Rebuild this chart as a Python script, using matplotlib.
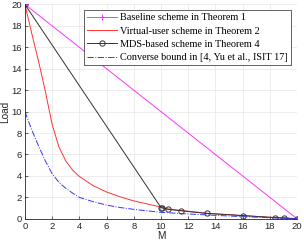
import matplotlib
matplotlib.use('Agg')
import matplotlib.pyplot as plt  # 그래프를 그리기 위한 라이브러리

# 데이터
baseline_M = [0, 20]
baseline_load = [20, 0]

virtual_M = [0, 0.5, 1, 1.5, 2, 2.5, 3, 3.5, 4, 5, 6, 7, 8, 9, 10,
             10.5, 11.48, 13.33, 16, 18.38, 19.04, 20]
virtual_load = [20, 17.3, 14.7, 11.9, 8.8, 6.7, 5.4, 4.55, 3.95, 3.1, 2.5, 2.05, 1.67, 1.38, 1.1,
                0.92, 0.77, 0.52, 0.3, 0.11, 0.07, 0]

mds_M = [0, 10, 10.1, 10.5, 11.48, 13.37, 16, 18.38, 19.04, 20]
mds_load = [20, 1.05, 1.0, 0.88, 0.75, 0.5, 0.3, 0.11, 0.08, 0]

converse_M = [0, 0.5, 1, 1.5, 2, 2.5, 3, 3.5, 4, 5, 6, 7, 8, 9, 10, 12, 14, 16, 18, 20]
converse_load = [10, 8.3, 6.8, 5.4, 4.2, 3.4, 2.85, 2.4, 2.0, 1.6, 1.28, 1.05, 0.88, 0.74, 0.6,
                 0.45, 0.32, 0.2, 0.1, 0]

labels = ['Baseline scheme in Theorem 1',
          'Virtual-user scheme in Theorem 2',
          'MDS-based scheme in Theorem 4',
          'Converse bound in [4, Yu et al., ISIT 17]']
ticks = list(range(0, 21, 2))

plt.rcParams['font.family'] = ['Liberation Sans', 'DejaVu Sans']

fig = plt.figure(figsize=(3.04, 2.45), dpi=100)
ax = fig.add_axes([0.082, 0.107, 0.895, 0.875])

ax.plot(baseline_M, baseline_load, color='#ff33ff', lw=0.7, marker='+', ms=5, mew=0.7, label=labels[0])
ax.plot(virtual_M, virtual_load, color='#ff3333', lw=0.7, label=labels[1])
ax.plot(mds_M, mds_load, color='#333333', lw=0.7, marker='o', ms=3.8, mfc='none', mew=0.7, label=labels[2])
ax.plot(converse_M, converse_load, color='#3333ff', lw=0.7, ls='-.', label=labels[3])

ax.set_xlim(0, 20)
ax.set_ylim(0, 20)
ax.set_xticks(ticks)
ax.set_yticks(ticks)
ax.tick_params(direction='in', length=2, width=0.5, labelsize=6.8, colors='#262626', pad=2)
ax.grid(True, color='#e6e6e6', lw=0.5)
ax.set_axisbelow(True)
for s in ['top', 'right']:
    ax.spines[s].set_visible(False)
for s in ['left', 'bottom']:
    ax.spines[s].set_linewidth(0.6)
    ax.spines[s].set_color('#262626')

ax.set_xlabel('M', fontsize=7.2, color='#262626', labelpad=0)
ax.set_ylabel('Load', fontsize=7.2, color='#262626', labelpad=1)

leg = ax.legend(loc='upper right', bbox_to_anchor=(0.978, 0.974), borderaxespad=0,
                prop={'family': 'Liberation Serif', 'size': 7.4}, fancybox=False,
                framealpha=1, edgecolor='#262626', handlelength=2.9, handletextpad=0.35,
                labelspacing=0.4, borderpad=0.3)
leg.get_frame().set_linewidth(0.5)

plt.savefig('out.png', dpi=100)
plt.close()
